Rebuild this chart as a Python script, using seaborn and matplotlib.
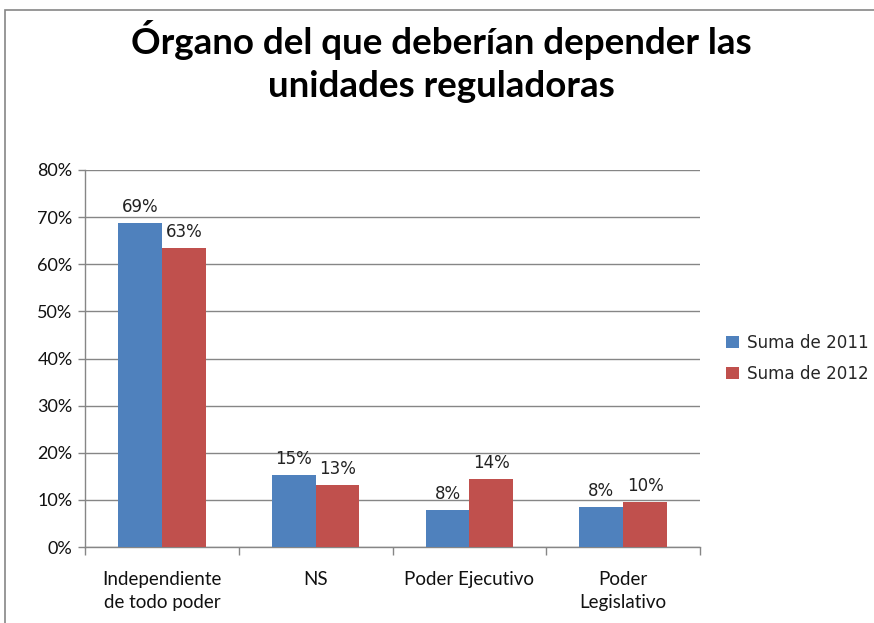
import matplotlib
matplotlib.use("Agg")
import matplotlib.pyplot as plt
import seaborn as sns
import pandas as pd
from matplotlib.patches import Rectangle
from matplotlib.ticker import PercentFormatter, FixedLocator

# datos
categorias = ["Independiente\nde todo poder", "NS", "Poder Ejecutivo", "Poder\nLegislativo"]
suma_2011 = [0.688, 0.153, 0.079, 0.085]
suma_2012 = [0.634, 0.132, 0.144, 0.096]
series = ["Suma de 2011", "Suma de 2012"]
titulo = "Órgano del que deberían depender las\nunidades reguladoras"

df = pd.DataFrame({
    "categoria": categorias * 2,
    "valor": suma_2011 + suma_2012,
    "serie": [series[0]] * 4 + [series[1]] * 4,
})

sns.set_style("white")
plt.rcParams["font.family"] = ["Lato", "DejaVu Sans"]

fig = plt.figure(figsize=(8.74, 6.23), dpi=100)
W, H = 874, 623
ax = fig.add_axes([85 / W, (H - 547) / H, 615 / W, 377 / H])

gris = "#868686"
sns.barplot(data=df, x="categoria", y="valor", hue="serie", ax=ax,
            palette=["#4F81BD", "#C0504D"], width=0.57, saturation=1,
            edgecolor="none", zorder=3)

for cont in ax.containers:
    ax.bar_label(cont, labels=[f"{v:.0%}" for v in cont.datavalues],
                 padding=5, fontsize=12, family="DejaVu Sans", color="#222222")

ax.set_ylim(0, 0.8)
ax.set_xlim(-0.5, 3.5)
ax.yaxis.set_major_formatter(PercentFormatter(1.0, decimals=0))
ax.set_yticks([i / 10 for i in range(9)])
ax.yaxis.grid(True, color=gris, linewidth=1, zorder=0)
ax.set_axisbelow(True)

ax.tick_params(axis="x", which="major", length=0, pad=17, labelsize=13.5)
ax.xaxis.set_minor_locator(FixedLocator([-0.5, 0.5, 1.5, 2.5, 3.5]))
ax.tick_params(axis="x", which="minor", length=6, color=gris, width=1, direction="out")
ax.tick_params(axis="y", length=5, color=gris, width=1, direction="out", labelsize=13, pad=4)
ax.tick_params(left=True, bottom=True, which="both")
for lab in ax.get_xticklabels():
    lab.set_linespacing(1.45)
    lab.set_va("top")
for lab in ax.get_xticklabels() + ax.get_yticklabels():
    lab.set_color("#111111")

ax.set_xlabel("")
ax.set_ylabel("")
for s in ["top", "right"]:
    ax.spines[s].set_visible(False)
for s in ["left", "bottom"]:
    ax.spines[s].set_color(gris)
    ax.spines[s].set_linewidth(1)

leg = ax.legend(loc="center left", bbox_to_anchor=(1.018, 0.5), frameon=False,
                prop={"family": "DejaVu Sans", "size": 12.1}, handlelength=0.75,
                handleheight=0.75, handletextpad=0.5, labelspacing=0.78)

fig.text(0.505, 1 - 20 / H, titulo, ha="center", va="top", fontsize=26.5,
         fontweight="bold", linespacing=1.38, color="black")

fig.patches.append(Rectangle((5 / W, -0.1), 1.2, 1 - 10 / H + 0.1,
                             transform=fig.transFigure, fill=False,
                             edgecolor=gris, linewidth=1.2))

fig.savefig("out.png", dpi=100)
